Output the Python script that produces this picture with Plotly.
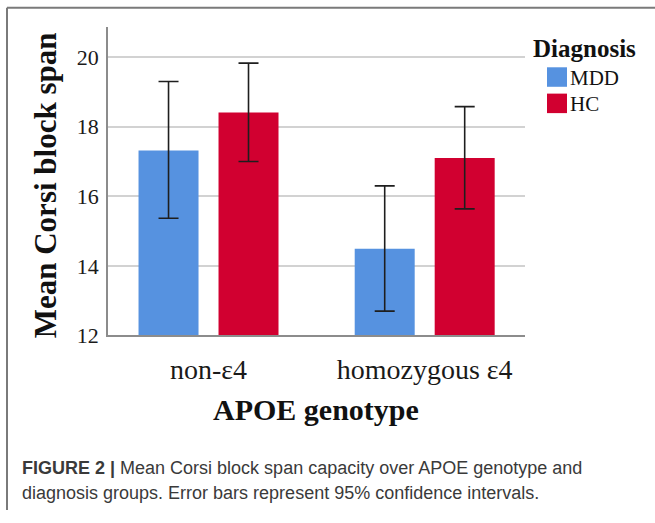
import plotly.graph_objects as go

# ---- data ----
categories = ["non-ε4", "homozygous ε4"]
mdd_mean = [17.32, 14.49]
mdd_upper = [19.30, 16.30]
mdd_lower = [15.37, 12.70]
hc_mean = [18.41, 17.10]
hc_upper = [19.83, 18.58]
hc_lower = [17.00, 15.64]
y_tick_vals = [12, 14, 16, 18, 20]
series_names = ["MDD", "HC"]

W, H = 655, 523
BLUE = "rgb(86,146,224)"
RED = "rgb(209,0,48)"
SERIF = "Liberation Serif"
SANS = "Liberation Sans"


def px(x):
    return x / W


def py(y):
    return 1 - y / H


def err(upper, lower, mean):
    return dict(
        type="data",
        symmetric=False,
        array=[u - m for u, m in zip(upper, mean)],
        arrayminus=[m - l for m, l in zip(mean, lower)],
        color="#1e1e1e",
        thickness=1.6,
        width=10,
    )


fig = go.Figure()
fig.add_trace(go.Bar(x=categories, y=mdd_mean, name=series_names[0], marker_color=BLUE,
                     marker_line_width=0, error_y=err(mdd_upper, mdd_lower, mdd_mean),
                     showlegend=False))
fig.add_trace(go.Bar(x=categories, y=hc_mean, name=series_names[1], marker_color=RED,
                     marker_line_width=0, error_y=err(hc_upper, hc_lower, hc_mean),
                     showlegend=False))

fig.update_layout(
    width=W, height=H,
    margin=dict(l=0, r=0, t=0, b=0),
    paper_bgcolor="white", plot_bgcolor="white",
    barmode="group", bargap=0.26, bargroupgap=0.25,
    xaxis=dict(
        domain=[px(108), px(525)], range=[-0.465, 1.464],
        showline=True, linecolor="#8c8c8c", linewidth=2,
        showgrid=False, zeroline=False, ticks="",
        tickfont=dict(family=SERIF, size=28, color="#1a1a1a"),
        ticklabelstandoff=8,
    ),
    yaxis=dict(
        domain=[py(344), py(28)], range=[12, 20.86],
        tickvals=y_tick_vals,
        showline=True, linecolor="#8c8c8c", linewidth=1.5,
        showgrid=True, gridcolor="#d2d2d2", gridwidth=1.5,
        zeroline=False, ticks="",
        tickfont=dict(family=SERIF, size=22, color="#1a1a1a"),
        ticklabelstandoff=3,
    ),
    font=dict(family=SERIF),
)

annotations = [
    dict(text="<b>Mean Corsi block span</b>", x=px(45), y=py(190), xref="paper", yref="paper",
         textangle=-90, showarrow=False, xanchor="center", yanchor="middle",
         font=dict(family=SERIF, size=31, color="#111")),
    dict(text="<b>APOE genotype</b>", x=px(316), y=py(420), xref="paper", yref="paper",
         showarrow=False, xanchor="center", yanchor="middle",
         font=dict(family=SERIF, size=30, color="#111")),
    dict(text="<b>Diagnosis</b>", x=px(531), y=py(50), xref="paper", yref="paper",
         showarrow=False, xanchor="left", yanchor="middle",
         font=dict(family=SERIF, size=25, color="#111")),
    dict(text=series_names[0], x=px(568), y=py(80), xref="paper", yref="paper",
         showarrow=False, xanchor="left", yanchor="middle",
         font=dict(family=SERIF, size=21, color="#111")),
    dict(text=series_names[1], x=px(568), y=py(107), xref="paper", yref="paper",
         showarrow=False, xanchor="left", yanchor="middle",
         font=dict(family=SERIF, size=21, color="#111")),
    dict(text="<b>FIGURE 2 |</b> Mean Corsi block span capacity over APOE genotype and",
         x=px(20), y=py(480), xref="paper", yref="paper",
         showarrow=False, xanchor="left", yanchor="middle",
         font=dict(family=SANS, size=18, color="#3a3a3a")),
    dict(text="diagnosis groups. Error bars represent 95% confidence intervals.",
         x=px(20), y=py(506), xref="paper", yref="paper",
         showarrow=False, xanchor="left", yanchor="middle",
         font=dict(family=SANS, size=18, color="#3a3a3a")),
]
fig.update_layout(annotations=annotations)

shapes = [
    # frame
    dict(type="line", xref="paper", yref="paper", x0=px(7), x1=px(7), y0=py(8), y1=0,
         line=dict(color="#7a7a7a", width=2)),
    dict(type="line", xref="paper", yref="paper", x0=px(7), x1=1, y0=py(8), y1=py(8),
         line=dict(color="#7a7a7a", width=2)),
    # legend swatches
    dict(type="rect", xref="paper", yref="paper", x0=px(547), x1=px(567), y0=py(69), y1=py(89),
         fillcolor=BLUE, line=dict(width=0)),
    dict(type="rect", xref="paper", yref="paper", x0=px(547), x1=px(567), y0=py(96), y1=py(116),
         fillcolor=RED, line=dict(width=0)),
]
fig.update_layout(shapes=shapes)

fig.write_html("out.html", config={"displayModeBar": False},
               post_script="document.body.style.margin='0';")
